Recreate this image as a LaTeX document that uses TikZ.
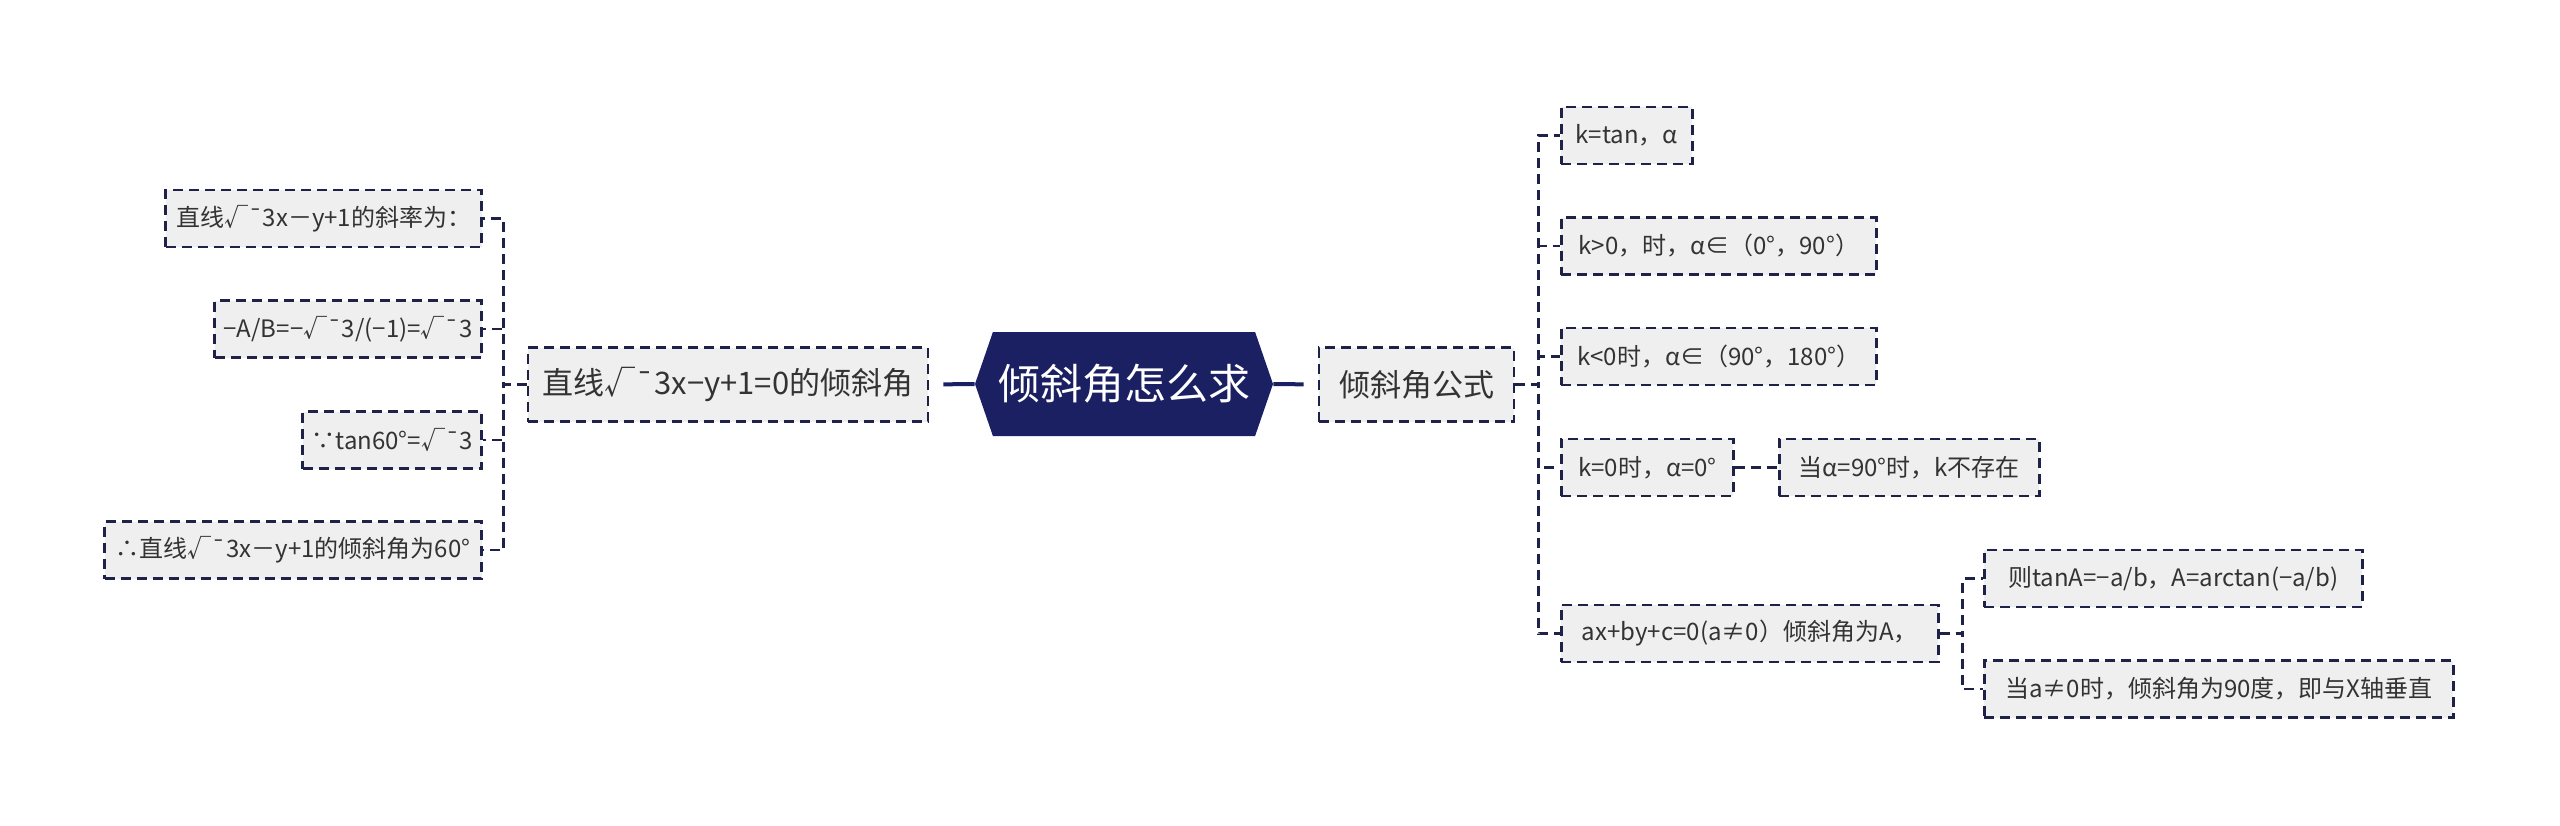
\documentclass[tikz,border=0pt]{standalone}
\usepackage{fontspec}
\setmainfont{Noto Sans CJK SC}
\usetikzlibrary{shapes.symbols}
\definecolor{navy}{HTML}{1B2062}
\definecolor{linec}{HTML}{1E2248}
\definecolor{boxgray}{HTML}{EFEFEF}
\definecolor{textc}{HTML}{333333}

\begin{document}
\begin{tikzpicture}[x=0.5pt, y=-0.5pt,
  box/.style={draw=linec, fill=boxgray, text=textc, dash pattern=on 5pt off 3pt, line width=1.3pt, inner xsep=0pt},
  leaf/.style={box, font=\fontsize{12}{14}\selectfont, minimum height=28.5pt},
  sub/.style={box, font=\fontsize{15.5}{18}\selectfont, minimum height=37pt},
  link/.style={draw=linec, dash pattern=on 5pt off 3pt, line width=1.3pt},
  rootlink/.style={draw=navy, line width=2pt, shorten >=7pt}]
  \useasboundingbox (0,0) rectangle (2560,825);
  \node[signal, signal to=west and east, signal pointer angle=142, fill=navy, text=white,
    font=\fontsize{21}{24}\selectfont, minimum width=149pt, minimum height=52pt, inner sep=0pt] (root) at (1124,384) {倾斜角怎么求};
  \node[sub, minimum width=200pt] (l1) at (728,384.5) {直线√¯3x−y+1=0的倾斜角};
  \node[sub, minimum width=97.5pt] (r1) at (1416.5,384.5) {倾斜角公式};
  \node[leaf, anchor=east, minimum width=158pt] (la) at (483,218.5) {直线√¯3x－y+1的斜率为：};
  \node[leaf, anchor=east, minimum width=133.5pt] (lb) at (483,329) {−A/B=−√¯3/(−1)=√¯3};
  \node[leaf, anchor=east, minimum width=89.5pt] (lc) at (483,440) {∵tan60°=√¯3};
  \node[leaf, anchor=east, minimum width=188.5pt] (ld) at (483,550) {∴直线√¯3x－y+1的倾斜角为60°};
  \node[leaf, anchor=west, minimum width=65.5pt] (ra) at (1560,135.5) {k=tan，α};
  \node[leaf, anchor=west, minimum width=157.5pt] (rb) at (1560,246) {k>0，时，α∈（0°，90°）};
  \node[leaf, anchor=west, minimum width=157.5pt] (rc) at (1560,356.5) {k<0时，α∈（90°，180°）};
  \node[leaf, anchor=west, minimum width=86pt] (rd) at (1560,467.5) {k=0时，α=0°};
  \node[leaf, anchor=west, minimum width=130pt] (re) at (1778,467.5) {当α=90°时，k不存在};
  \node[leaf, anchor=west, minimum width=188.5pt] (rf) at (1560,633.5) {ax+by+c=0(a≠0）倾斜角为A，};
  \node[leaf, anchor=west, minimum width=189pt] (rg) at (1983,578.5) {则tanA=−a/b，A=arctan(−a/b)};
  \node[leaf, anchor=west, minimum width=234.5pt] (rh) at (1983,689) {当a≠0时，倾斜角为90度，即与X轴垂直};
  \draw[rootlink] (root.west) -- (l1.east);
  \draw[rootlink] (root.east) -- (r1.west);
  \draw[link] (l1.west) -- ++(-23,0) |- (la.east);
  \draw[link] (l1.west) -- ++(-23,0) |- (lb.east);
  \draw[link] (l1.west) -- ++(-23,0) |- (lc.east);
  \draw[link] (l1.west) -- ++(-23,0) |- (ld.east);
  \draw[link] (r1.east) -- ++(23,0) |- (ra.west);
  \draw[link] (r1.east) -- ++(23,0) |- (rb.west);
  \draw[link] (r1.east) -- ++(23,0) |- (rc.west);
  \draw[link] (r1.east) -- ++(23,0) |- (rd.west);
  \draw[link] (r1.east) -- ++(23,0) |- (rf.west);
  \draw[link] (rd.east) -- (re.west);
  \draw[link] (rf.east) -- ++(23,0) |- (rg.west);
  \draw[link] (rf.east) -- ++(23,0) |- (rh.west);
\end{tikzpicture}
\end{document}
